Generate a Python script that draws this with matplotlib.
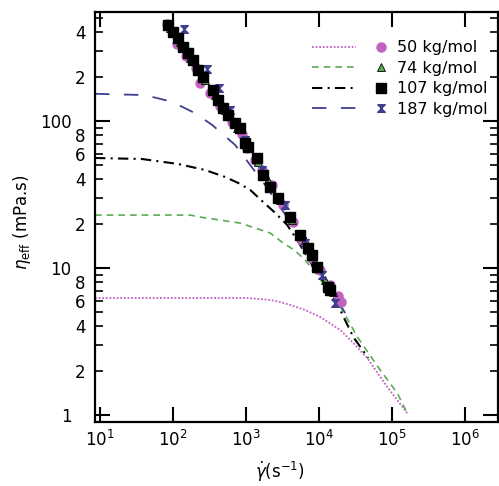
import matplotlib
matplotlib.use("Agg")
import matplotlib.pyplot as plt
import numpy as np
from matplotlib.lines import Line2D
from matplotlib.ticker import LogLocator, NullLocator, FuncFormatter

plt.rcParams["mathtext.fontset"] = "dejavusans"

# model curves (shear rate in 1/s, viscosity in mPa.s)
rate_50 = [8.55, 1030, 2130, 2920, 4010, 6430, 10300, 19400, 29200, 45500, 85500, 160000]
eta_50 = [6.25, 6.25, 6.06, 5.87, 5.6, 5.18, 4.64, 3.79, 3.09, 2.44, 1.55, 1.03]

rate_74 = [8.55, 171, 234, 827, 2130, 3210, 4690, 6430, 8280, 11000, 15550, 22700,
           33200, 68500, 117000, 160000]
eta_74 = [22.9, 22.9, 22.2, 20.2, 17.3, 14.8, 13.1, 11.3, 9.7, 8.03, 6.55, 4.79,
          3.40, 2.02, 1.41, 1.03]

rate_107 = [8.55, 37.6, 117, 274, 515, 776, 1135, 1710, 2500, 3650, 5000, 6850,
            9390, 12900, 19400, 29200, 46900]
eta_107 = [56, 55.1, 51, 46.4, 41.6, 37.9, 34, 28.1, 23.7, 19.6, 15.5, 11.9,
           9.25, 7.43, 5.18, 3.40, 2.44]

rate_187 = [8.55, 41.3, 96.8, 200, 342, 707, 1135, 1820, 4010, 10300, 22700]
eta_187 = [153, 150, 135, 113, 94, 68.7, 50.2, 36.7, 20.6, 9.4, 4.94]

# measured points
pts_rate_50 = [82.8, 113.5, 151, 206.5, 234, 321, 440, 643, 881, 1032, 1328, 1656,
               2270, 3210, 4410, 5850, 8020, 10300, 14150, 18200, 20000]
pts_eta_50 = [457, 334, 277, 230, 181, 155, 126, 98, 81.6, 65.5, 54.3, 46.4,
              36.7, 26.8, 20.6, 15.5, 11.7, 9.7, 7.66, 6.45, 5.87]

pts_rate_74 = [91, 125, 171, 274, 376, 515, 753, 1032, 1460, 2000, 2920, 4270,
               6430, 8810, 12100, 15550]
pts_eta_74 = [429, 345, 268, 190, 150, 119, 89.6, 68.7, 52.6, 39.7, 29.1, 21.2,
              15.5, 11.0, 8.29, 6.87]

pts_rate_107 = [85.4, 100, 117, 137, 160, 188, 220, 258, 353, 413, 484, 567, 707,
                827, 968, 1065, 1415, 1710, 2130, 2745, 4010, 5500, 7070, 8020,
                9390, 13300, 14150]
pts_eta_107 = [450, 403, 367, 319, 290, 260, 222, 199, 163, 139, 122, 110, 97,
               90, 71, 66.5, 56, 43, 35.6, 29.9, 22.2, 16.8, 13.7, 12.3,
               10.2, 7.4, 7.1]

pts_rate_187 = [142, 292, 426, 604, 968, 1656, 3420, 6430, 11000, 16560]
pts_eta_187 = [423, 226, 168, 119, 74.3, 46.4, 26.8, 14.8, 8.96, 5.78]

labels = ["50 kg/mol", "74 kg/mol", "107 kg/mol", "187 kg/mol"]

pink = "#c261c2"
green = "#5aac52"
blue = "#3f3f8f"

hourglass = [(-1, 1), (1, 1), (-1, -1), (1, -1), (-1, 1)]


class LineAndMarker:
    # legend entry: line sample, then the marker, side by side
    def legend_artist(self, legend, orig_handle, fontsize, handlebox):
        line, mark = orig_handle
        x0, y0 = -handlebox.xdescent, -handlebox.ydescent
        w, h = handlebox.width, handlebox.height
        yc = y0 + h / 2
        seg = Line2D([x0, x0 + 0.6 * w], [yc, yc])
        seg.update_from(line)
        dot = Line2D([x0 + 0.93 * w], [yc])
        dot.update_from(mark)
        for a in (seg, dot):
            a.set_transform(handlebox.get_transform())
            a.set_clip_on(False)
            handlebox.add_artist(a)
        return seg


def minor_label(v, p):
    lead = round(v / 10 ** np.floor(np.log10(v)))
    return str(lead) if lead in (2, 4, 6, 8) else ""


fig = plt.figure(figsize=(4.99, 4.86), dpi=100)
ax = fig.add_axes([0.1904, 0.1317, 0.8076, 0.8436])

l50, = ax.plot(rate_50, eta_50, color=pink, lw=1.3, linestyle=(0, (1, 1)))
l74, = ax.plot(rate_74, eta_74, color=green, lw=1.2, dashes=(4, 3))
l107, = ax.plot(rate_107, eta_107, color="black", lw=1.5, dashes=(5, 2.5, 1, 2.5))
l187, = ax.plot(rate_187, eta_187, color=blue, lw=1.3, dashes=(8, 8))

m50, = ax.plot(pts_rate_50, pts_eta_50, "o", color=pink, ms=6.5, linestyle="none")
m74, = ax.plot(pts_rate_74, pts_eta_74, "^", color=green, mec="black", mew=0.6,
               ms=6, linestyle="none")
m187, = ax.plot(pts_rate_187, pts_eta_187, marker=hourglass, color=blue, ms=5.5,
                linestyle="none")
m107, = ax.plot(pts_rate_107, pts_eta_107, "s", color="black", ms=6.5,
                linestyle="none")

ax.set_xscale("log")
ax.set_yscale("log")
ax.set_xlim(8.55, 2.8e6)
ax.set_ylim(0.896, 551)

ax.xaxis.set_major_locator(LogLocator(base=10, numticks=12))
ax.xaxis.set_minor_locator(NullLocator())
ax.yaxis.set_major_locator(LogLocator(base=10, numticks=12))
ax.yaxis.set_minor_locator(LogLocator(base=10, subs=range(2, 10), numticks=12))
ax.yaxis.set_major_formatter(FuncFormatter(lambda v, p: f"{v:g}"))
ax.yaxis.set_minor_formatter(FuncFormatter(minor_label))

for s in ax.spines.values():
    s.set_linewidth(1.6)
ax.tick_params(which="both", direction="in", top=True, right=True,
               labelsize=12, colors="black")
ax.tick_params(which="major", length=11, width=1.5)
ax.tick_params(which="minor", length=6, width=1.2)
ax.tick_params(axis="y", which="major", pad=17)
ax.tick_params(axis="y", which="minor", pad=7)
ax.tick_params(axis="x", which="major", pad=6)

ax.set_xlabel(r"$\dot{\gamma}$(s$^{-1}$)", fontsize=12)
ax.set_ylabel(r"$\eta_{\mathrm{eff}}$ (mPa.s)", fontsize=12)
ax.xaxis.set_label_coords(0.459, -0.092)
ax.yaxis.set_label_coords(-0.155, 0.488)

ax.legend([(l50, m50), (l74, m74), (l107, m107), (l187, m187)], labels,
          handler_map={tuple: LineAndMarker()}, loc="upper right",
          bbox_to_anchor=(0.99, 0.947), frameon=False, fontsize=11.5,
          handlelength=4.6, handletextpad=0.7, labelspacing=0.35,
          borderaxespad=0)

fig.savefig("out.png", dpi=100)
